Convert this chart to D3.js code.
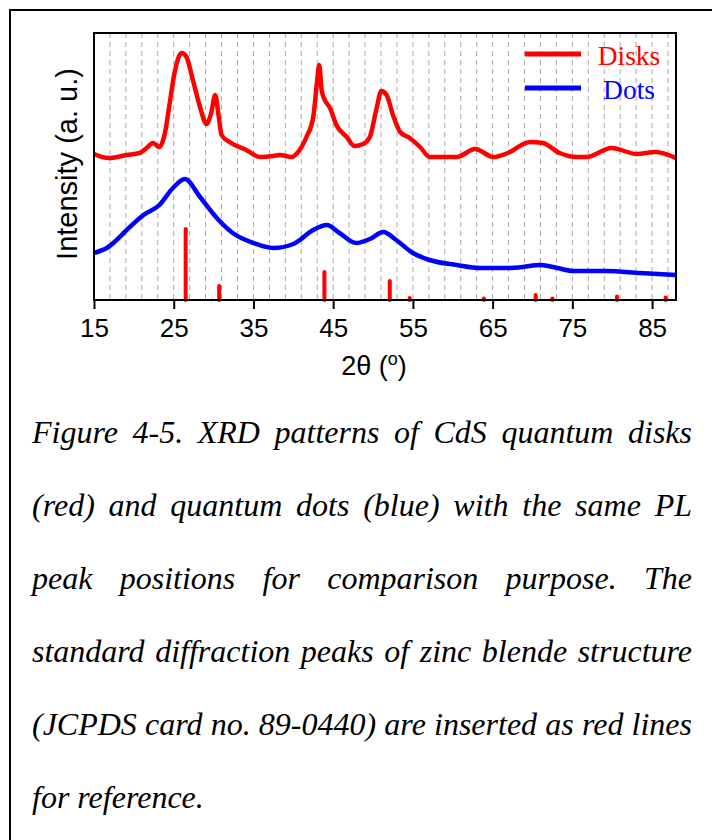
<!DOCTYPE html>
<html><head><meta charset="utf-8">
<script src="https://cdn.jsdelivr.net/npm/d3@7/dist/d3.min.js"></script>
<style>body{margin:0;background:#fff} svg{display:block}</style>
</head><body><svg id="c" width="712" height="840"></svg>
<script>
// ---- data (2θ in degrees, intensity in arbitrary units) ----
const disksTheta = [15, 16, 17, 19.1, 20.7, 21.6, 22.4, 23.2, 23.9, 24.5, 25.1, 26.0, 26.6, 27.4, 28.3, 29.1, 29.7, 30.2, 30.65, 31.0, 32.0, 34.1, 35.8, 37.5, 38.3, 39.8, 40.6, 41.65, 42.5, 43.0, 43.25, 43.55, 43.95, 44.6, 45.4, 46.7, 47.7, 48.75, 49.6, 50.4, 51.05, 51.7, 52.5, 53.4, 54.6, 55.9, 57.1, 60.5, 62.8, 65.1, 66.9, 69.7, 71.3, 73.4, 75.5, 76.8, 79.9, 83.1, 85.4, 88];
const disksI     = [146, 143, 142, 145, 147, 152, 157, 153, 167, 197, 227, 247, 243, 220, 193, 176, 187, 205, 183, 165, 158, 150, 143, 144, 145, 143, 148, 163, 183, 220, 235, 210, 200, 192, 175, 163, 154, 156, 163, 190, 209, 205, 185, 168, 162, 153, 143, 143, 151, 143, 147, 158, 157, 147, 143, 143, 152, 146, 148, 142];
const dotsTheta  = [15, 16.6, 19.5, 21.2, 23.2, 24.9, 26.4, 28.3, 30.4, 32.4, 35.0, 37.5, 40.0, 42.5, 44.2, 45.8, 47.9, 49.6, 51.3, 52.9, 55.0, 57.1, 60.5, 63.4, 66.7, 68.8, 70.9, 72.6, 75.1, 79.3, 83.5, 88];
const dotsI      = [47, 52, 73, 85, 95, 112, 121, 103, 82, 67, 57, 52, 56, 70, 75, 67, 57, 61, 68, 60, 47, 40, 35, 32, 32, 33, 35, 33, 29, 29, 27, 25];
const refTheta   = [26.5, 30.7, 43.9, 52.1, 54.6, 63.9, 70.4, 72.5, 80.6, 86.7];
const refI       = [72, 15, 29, 20, 3, 2.5, 6, 2.5, 4.5, 3.5];
const xTicks     = [15, 25, 35, 45, 55, 65, 75, 85];
const seriesNames  = ["Disks", "Dots"];
const seriesColors = ["#ff0000", "#0000ff"];
const captionLines = [
  "Figure 4-5. XRD patterns of CdS quantum disks",
  "(red) and quantum dots (blue) with the same PL",
  "peak positions for comparison purpose. The",
  "standard diffraction peaks of zinc blende structure",
  "(JCPDS card no. 89-0440) are inserted as red lines",
  "for reference."
];

// ---- layout ----
const L = 94, R = 676, T = 33, B = 300;
const svg = d3.select("#c");
svg.append("rect").attr("width", 712).attr("height", 840).attr("fill", "#fff");
// outer frame (left + top visible)
svg.append("path").attr("d", "M10,845V10H715").attr("fill", "none").attr("stroke", "#000").attr("stroke-width", 2);

const x = d3.scaleLinear().domain([15, 88]).range([L, R]);
const y = d3.scaleLinear().domain([0, 267]).range([B, T]);

// grid
svg.append("g").selectAll("line").data(d3.range(17, 88, 2)).join("line")
  .attr("x1", d => x(d)).attr("x2", d => x(d)).attr("y1", T).attr("y2", B)
  .attr("stroke", "#aaaaaa").attr("stroke-width", 1).attr("stroke-dasharray", "5,4");

// reference sticks
svg.append("g").selectAll("line").data(refTheta.map((t, i) => [t, refI[i]])).join("line")
  .attr("x1", d => x(d[0])).attr("x2", d => x(d[0]))
  .attr("y1", B).attr("y2", d => y(d[1]) + 1)
  .attr("stroke", "#ff0000").attr("stroke-width", 4).attr("stroke-linecap", "round");

// curves
const line = d3.line().x(d => x(d[0])).y(d => y(d[1])).curve(d3.curveMonotoneX);
const series = [disksTheta.map((t, i) => [t, disksI[i]]), dotsTheta.map((t, i) => [t, dotsI[i]])];
series.forEach((s, k) => {
  svg.append("path").datum(s).attr("d", line).attr("fill", "none")
    .attr("stroke", seriesColors[k]).attr("stroke-width", 4.5)
    .attr("stroke-linejoin", "round").attr("stroke-linecap", "butt");
});

// legend
seriesNames.forEach((n, k) => {
  const ly = 54 + k * 34;
  svg.append("line").attr("x1", 525).attr("x2", 581).attr("y1", ly).attr("y2", ly)
    .attr("stroke", seriesColors[k]).attr("stroke-width", 5);
  svg.append("text").attr("x", 629).attr("y", ly + 11).attr("text-anchor", "middle")
    .attr("font-family", "'Liberation Serif','Times New Roman',serif").attr("font-size", 27.5)
    .attr("fill", seriesColors[k]).text(n);
});

// plot frame
svg.append("rect").attr("x", L).attr("y", T).attr("width", R - L).attr("height", B - T)
  .attr("fill", "none").attr("stroke", "#000").attr("stroke-width", 2);

// x axis
const ax = svg.append("g").attr("transform", `translate(0,${B})`)
  .call(d3.axisBottom(x).tickValues(xTicks).tickSize(9).tickPadding(10).tickFormat(d3.format("d")));
ax.select(".domain").remove();
ax.selectAll(".tick line").attr("stroke", "#000").attr("stroke-width", 2);
ax.selectAll(".tick text").attr("font-family", "'Liberation Sans',Arial,sans-serif")
  .attr("font-size", 26).attr("fill", "#000");

const xt = svg.append("text").attr("x", 374).attr("y", 375).attr("text-anchor", "middle")
  .attr("font-family", "'Liberation Sans',Arial,sans-serif").attr("font-size", 27).attr("fill", "#000");
xt.append("tspan").text("2θ (");
xt.append("tspan").attr("font-size", 18).attr("dy", -10).text("o");
xt.append("tspan").attr("dy", 10).text(")");

svg.append("text").attr("transform", "translate(77,164) rotate(-90)").attr("text-anchor", "middle")
  .attr("font-family", "'Liberation Sans',Arial,sans-serif").attr("font-size", 29).attr("fill", "#000")
  .text("Intensity (a. u.)");

// caption (justified)
const cx0 = 32, cx1 = 692, fs = 32;
captionLines.forEach((ln, i) => {
  const by = 443 + i * 73;
  const g = svg.append("g");
  const words = ln.split(" ");
  const nodes = words.map(w => g.append("text").attr("y", by)
    .attr("font-family", "'Liberation Serif','Times New Roman',serif")
    .attr("font-style", "italic").attr("font-size", fs).attr("fill", "#000").text(w));
  const widths = nodes.map(n => n.node().getComputedTextLength());
  const total = d3.sum(widths);
  const last = i === captionLines.length - 1;
  const gap = last ? fs * 0.25 : (cx1 - cx0 - total) / (words.length - 1);
  let cx = cx0;
  nodes.forEach((n, j) => { n.attr("x", cx); cx += widths[j] + gap; });
});
</script></body></html>
